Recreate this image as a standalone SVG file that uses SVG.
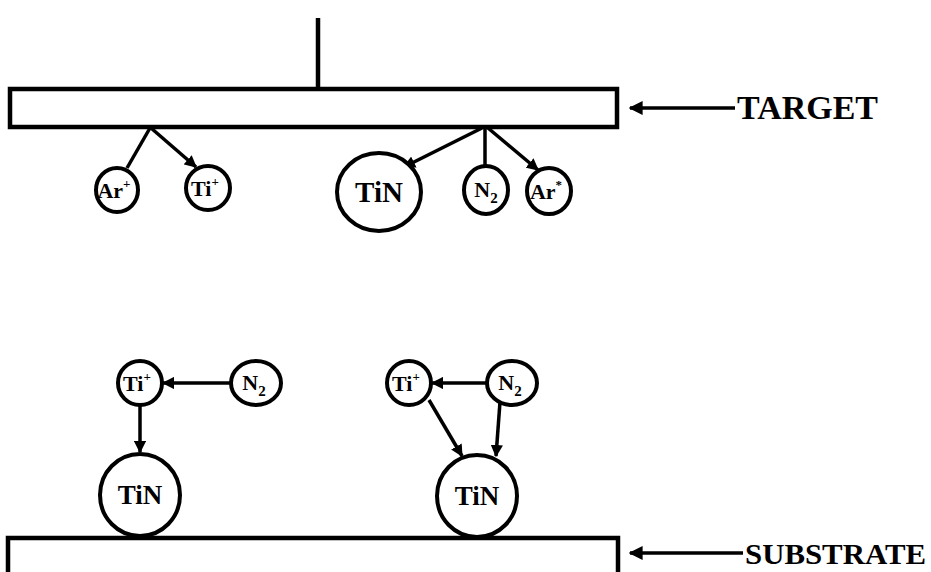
<svg xmlns="http://www.w3.org/2000/svg" width="931" height="572" viewBox="0 0 931 572">
<defs>
<style>
.node{fill:#fff;stroke:#000;stroke-width:4}
.box{fill:#fff;stroke:#000;stroke-width:4.5}
.con{fill:none;stroke:#000;stroke-width:3.5}
.lbl{font-family:"Liberation Serif","Times New Roman",serif;font-weight:bold;fill:#000;text-anchor:middle}
.s{font-size:22px}
.b{font-size:29px}
.m{font-size:27px}
.side{font-family:"Liberation Serif","Times New Roman",serif;font-weight:bold;font-size:33px;fill:#000}
.side2{font-size:30px}
</style>
<marker id="ah" viewBox="0 0 10 10" refX="9" refY="5" markerWidth="3.5" markerHeight="3.5" orient="auto" markerUnits="strokeWidth">
<path d="M0,0 L10,5 L0,10 z" fill="#000"/>
</marker>
<marker id="ahb" viewBox="0 0 10 10" refX="9" refY="5" markerWidth="4" markerHeight="4" orient="auto" markerUnits="strokeWidth">
<path d="M0,0 L10,5 L0,10 z" fill="#000"/>
</marker>
</defs>
<rect width="931" height="572" fill="#fff"/>

<g id="target">
<line x1="318" y1="18" x2="318" y2="89" stroke="#000" stroke-width="4.5"/>
<rect class="box" x="10" y="89" width="607" height="38"/>
</g>
<g id="substrate">
<rect class="box" x="8" y="538" width="610" height="40"/>
</g>

<g id="connectors">
<line class="con" x1="150" y1="128" x2="127" y2="168"/>
<line class="con" x1="151" y1="128" x2="196" y2="167" marker-end="url(#ah)"/>
<line class="con" x1="482" y1="128" x2="404" y2="167" marker-end="url(#ah)"/>
<line class="con" x1="485" y1="128" x2="485" y2="167"/>
<line class="con" x1="488" y1="128" x2="538" y2="170" marker-end="url(#ah)"/>
<line class="con" x1="231" y1="383" x2="163" y2="383" marker-end="url(#ah)"/>
<line class="con" x1="140" y1="405" x2="140" y2="452" marker-end="url(#ah)"/>
<line class="con" x1="487" y1="383" x2="432" y2="383" marker-end="url(#ah)"/>
<line class="con" x1="429" y1="400" x2="462" y2="456" marker-end="url(#ah)"/>
<line class="con" x1="500" y1="402" x2="496" y2="456" marker-end="url(#ah)"/>
<line class="con" x1="735" y1="108" x2="630" y2="108" marker-end="url(#ahb)"/>
<line class="con" x1="743" y1="553" x2="630" y2="553" marker-end="url(#ahb)"/>
</g>

<g id="n-ar1"><ellipse class="node" cx="117" cy="190" rx="21" ry="22"/><text class="lbl s" x="114" y="198">Ar<tspan dy="-10" font-size="13">+</tspan></text></g>
<g id="n-ti1"><ellipse class="node" cx="208" cy="188" rx="22" ry="22"/><text class="lbl s" x="205" y="196">Ti<tspan dy="-10" font-size="13">+</tspan></text></g>
<g id="n-tin1"><ellipse class="node" cx="379" cy="192" rx="42" ry="39"/><text class="lbl b" x="379" y="202">TiN</text></g>
<g id="n-n21"><ellipse class="node" cx="486" cy="190" rx="22" ry="24"/><text class="lbl s" x="486" y="197">N<tspan dy="6" font-size="15">2</tspan></text></g>
<g id="n-ar2"><ellipse class="node" cx="549" cy="191" rx="22" ry="23"/><text class="lbl s" x="546" y="199">Ar<tspan dy="-10" font-size="13">*</tspan></text></g>

<g id="n-ti2"><ellipse class="node" cx="140" cy="383" rx="22" ry="22"/><text class="lbl s" x="137" y="391">Ti<tspan dy="-10" font-size="13">+</tspan></text></g>
<g id="n-n22"><ellipse class="node" cx="256" cy="383" rx="25" ry="22"/><text class="lbl s" x="254" y="390">N<tspan dy="6" font-size="15">2</tspan></text></g>
<g id="n-tin2"><ellipse class="node" cx="140" cy="495" rx="40" ry="41"/><text class="lbl m" x="140" y="504">TiN</text></g>

<g id="n-ti3"><ellipse class="node" cx="409" cy="383" rx="22" ry="22"/><text class="lbl s" x="406" y="391">Ti<tspan dy="-10" font-size="13">+</tspan></text></g>
<g id="n-n23"><ellipse class="node" cx="512" cy="383" rx="25" ry="22"/><text class="lbl s" x="510" y="390">N<tspan dy="6" font-size="15">2</tspan></text></g>
<g id="n-tin3"><ellipse class="node" cx="477" cy="496" rx="40" ry="41"/><text class="lbl m" x="477" y="505">TiN</text></g>

<text class="side" x="737" y="119" textLength="141" lengthAdjust="spacingAndGlyphs">TARGET</text>
<text class="side side2" x="745" y="564" textLength="181" lengthAdjust="spacingAndGlyphs">SUBSTRATE</text>
</svg>
